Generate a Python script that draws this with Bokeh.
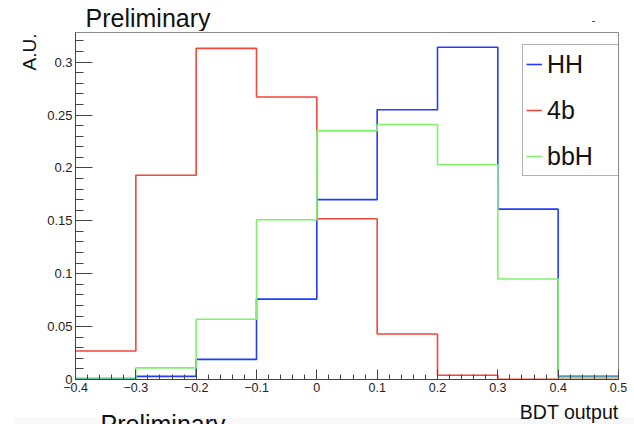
import math
from bokeh.plotting import figure
from bokeh.models import Range1d, FixedTicker, Legend, LegendItem
from bokeh.layouts import column, row
from bokeh.core.properties import value
from bokeh.embed import file_html
from bokeh.resources import INLINE

# BDT output binning (9 bins from -0.4 to 0.5)
bin_edges = [-0.4, -0.3, -0.2, -0.1, 0.0, 0.1, 0.2, 0.3, 0.4, 0.5]

# Normalised distributions (A.U.) per bin
hh_vals = [0.001, 0.003, 0.019, 0.076, 0.170, 0.255, 0.314, 0.161, 0.003]
fourb_vals = [0.027, 0.193, 0.313, 0.267, 0.152, 0.043, 0.004, 0.0003, 0.0002]
bbh_vals = [0.0005, 0.011, 0.057, 0.151, 0.235, 0.241, 0.203, 0.095, 0.002]

series_names = ["HH", "4b", "bbH"]
series_colors = ["#1f3cff", "#f2473f", "#7ef26b"]

x_major = [-0.4, -0.3, -0.2, -0.1, 0.0, 0.1, 0.2, 0.3, 0.4, 0.5]
x_labels = ["\u22120.4", "\u22120.3", "\u22120.2", "\u22120.1", "0", "0.1", "0.2", "0.3", "0.4", "0.5"]
y_major = [0.0, 0.05, 0.1, 0.15, 0.2, 0.25, 0.3]
y_labels = ["0", "0.05", "0.1", "0.15", "0.2", "0.25", "0.3"]

header_text = "Preliminary"
x_title = "BDT output"
y_title = "A.U."

FONT = "Liberation Sans"
INK = "#111111"

# Page layout (pixels): header strip, left title strip + plot, footer strip
W, H = 634, 424
TOP_H = 31
LEFT_W = 40
MAIN_H = 367
BOT_H = H - TOP_H - MAIN_H
MAIN_W = W - LEFT_W


def strip(width, height):
    """A bare figure whose data space is its own pixel grid (y downwards)."""
    f = figure(width=width, height=height, output_backend="svg",
               toolbar_location=None, x_axis_type=None, y_axis_type=None,
               x_range=Range1d(0, width), y_range=Range1d(height, 0),
               min_border=0, outline_line_color=None)
    f.grid.visible = False
    f.background_fill_color = "white"
    f.border_fill_color = "white"
    return f


def put_text(f, x, baseline, text, size_px, align="left", angle=0.0):
    # texts are anchored on their middle line, 0.3 em above the baseline
    shift = 0.3 * size_px
    if angle:
        x, y = x - shift, baseline
    else:
        x, y = x, baseline - shift
    f.text(x=[x], y=[y], text=[text], angle=angle,
           text_font=value(FONT), text_font_size=value(f"{size_px}px"),
           text_color=INK, text_align=align, text_baseline="middle")


# Header strip
top = strip(W, TOP_H)
put_text(top, 85, 25, header_text, 25)
put_text(top, 593, 22, "-", 10, align="center")

# Left strip carrying the vertical axis title
left = strip(LEFT_W, MAIN_H)
put_text(left, 35, 1, y_title, 19, align="right", angle=math.pi / 2)

# Main histogram frame
p = figure(width=MAIN_W, height=MAIN_H, output_backend="svg",
           toolbar_location=None,
           x_range=Range1d(-0.4, 0.5), y_range=Range1d(0.0, 0.328),
           min_border_left=35, min_border_right=16,
           min_border_top=1, min_border_bottom=19)
p.grid.visible = False
p.background_fill_color = "white"
p.border_fill_color = "white"
p.outline_line_color = "#8a8a8a"
p.outline_line_width = 1

# ROOT-style axes: ticks pointing into the frame
p.xaxis.ticker = FixedTicker(ticks=x_major,
                             minor_ticks=[round(-0.4 + 0.02 * i, 3) for i in range(46)])
p.xaxis.major_label_overrides = {v: t for v, t in zip(x_major, x_labels)}
p.yaxis.ticker = FixedTicker(ticks=y_major,
                             minor_ticks=[round(0.01 * i, 3) for i in range(33)])
p.yaxis.major_label_overrides = {v: t for v, t in zip(y_major, y_labels)}

for ax in (p.xaxis[0], p.yaxis[0]):
    ax.axis_line_color = "#444444"
    ax.major_tick_line_color = "#444444"
    ax.minor_tick_line_color = "#444444"
    ax.major_tick_out = 0
    ax.minor_tick_out = 0
    ax.major_label_text_font = FONT
    ax.major_label_text_color = "#222222"

p.xaxis.major_tick_in = 10
p.xaxis.minor_tick_in = 5
p.xaxis.major_label_text_font_size = "12.5px"
p.xaxis.major_label_standoff = 3
p.yaxis.major_tick_in = 17
p.yaxis.minor_tick_in = 8
p.yaxis.major_label_text_font_size = "13px"
p.yaxis.major_label_standoff = 3

# Histogram outlines
renderers = []
for vals, color in zip([hh_vals, fourb_vals, bbh_vals], series_colors):
    r = p.step(x=bin_edges, y=vals + [vals[-1]], mode="after",
               line_color=color, line_width=1.6)
    renderers.append(r)

legend = Legend(items=[LegendItem(label=n, renderers=[r])
                       for n, r in zip(series_names, renderers)],
                location=(447, 203), orientation="vertical",
                padding=3, spacing=14, margin=0,
                glyph_width=16, glyph_height=32, label_height=32,
                label_width=69, label_standoff=5,
                label_text_font=FONT, label_text_font_size="25px",
                label_text_color=INK,
                border_line_color="#666666", border_line_width=1,
                background_fill_color="white", background_fill_alpha=1.0)
p.add_layout(legend)

# Footer strip: axis title and a second header line running off the page
bot = strip(W, BOT_H)
bot.quad(left=[13], right=[W], top=[19], bottom=[BOT_H],
         fill_color="#f8f8f8", line_color=None)
put_text(bot, 618, 19, x_title, 19.5, align="right")
put_text(bot, 100, 33, header_text, 25)

layout = column(top, row(left, p, spacing=0), bot, spacing=0)
open("out.html", "w").write(file_html(layout, INLINE))
